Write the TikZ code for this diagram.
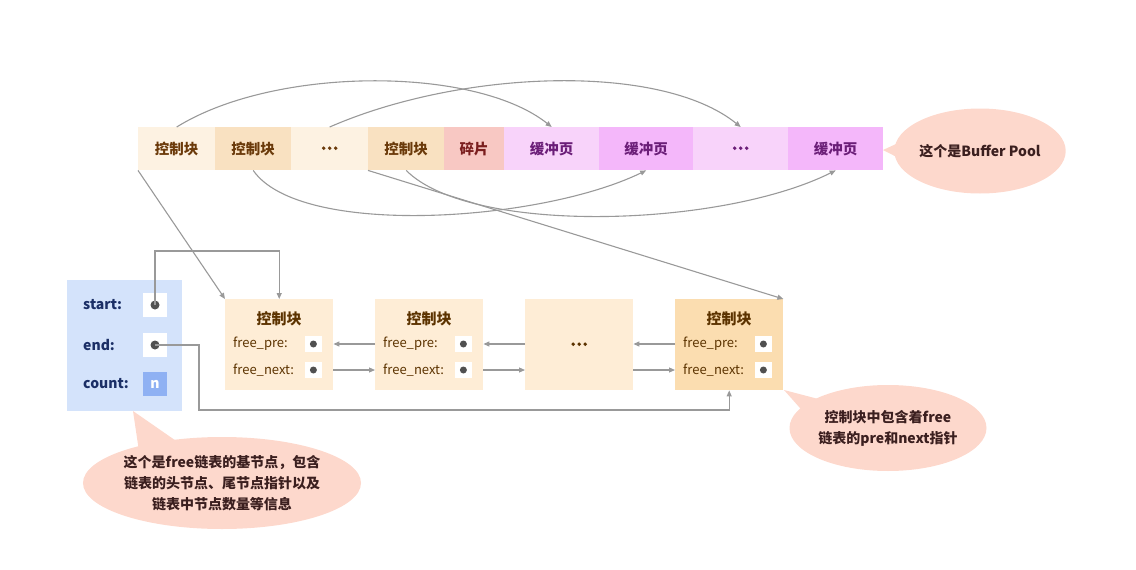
\documentclass[tikz,border=0pt]{standalone}
\usepackage{fontspec}
\setmainfont{Noto Sans CJK SC}
\usetikzlibrary{arrows.meta,shapes.geometric,calc}
\definecolor{cA}{HTML}{FDF2E2}
\definecolor{cB}{HTML}{F9E1C1}
\definecolor{cFrag}{HTML}{F8C8C3}
\definecolor{cP1}{HTML}{F8D3FA}
\definecolor{cP2}{HTML}{F4B7FA}
\definecolor{tBrown}{HTML}{6B3A0A}
\definecolor{tRed}{HTML}{7B1E1E}
\definecolor{tPurple}{HTML}{6B1E78}
\definecolor{arrgray}{HTML}{999999}
\definecolor{callout}{HTML}{FDD8CC}
\definecolor{tCall}{HTML}{3B1F1F}
\definecolor{headblue}{HTML}{D4E3FB}
\definecolor{countblue}{HTML}{8FB1F3}
\definecolor{tBlue}{HTML}{1B2F66}
\definecolor{nodeA}{HTML}{FEEDD6}
\definecolor{nodeB}{HTML}{FBDDB0}
\definecolor{tNode}{HTML}{5C3300}
\definecolor{dotgray}{HTML}{505050}
\newcommand\tridots{\tikz[x=1pt,y=1pt,baseline=-3pt]{\foreach \i in {0,1,2} \fill (\i*6,0) circle (1.9);}}
\begin{document}
\begin{tikzpicture}[x=1pt,y=-1pt,
  cell/.style={minimum height=43pt, inner sep=0pt, anchor=north west,
    font=\bfseries\fontsize{14.5}{16}\selectfont},
  arr/.style={draw=arrgray, line width=1.1pt, -{Triangle[length=6pt,width=5pt]}},
  lnode/.style={minimum width=108pt, minimum height=91pt, inner sep=0pt, anchor=north west},
  ntitle/.style={text=tNode, font=\bfseries\fontsize{15}{17}\selectfont, inner sep=0pt},
  nlab/.style={text=tNode, font=\fontsize{13}{15}\selectfont, inner sep=0pt, anchor=west},
  nsq/.style={fill=white, minimum width=17pt, minimum height=16pt, inner sep=0pt},
  ndot/.style={circle, fill=dotgray, minimum size=7pt, inner sep=0pt},
  hlab/.style={text=tBlue, font=\bfseries\fontsize{14}{16}\selectfont, inner sep=0pt, anchor=west},
  hsq/.style={fill=white, minimum width=24pt, minimum height=24pt, inner sep=0pt},
  hdot/.style={circle, fill=dotgray, minimum size=9pt, inner sep=0pt},
  bubble/.style={ellipse, fill=callout, inner sep=0pt, text=tCall, align=center,
    font=\bfseries\fontsize{14}{21}\selectfont}
]
\useasboundingbox (0,0) rectangle (1136,570);

% ---- top buffer pool row
\node[cell, fill=cA, text=tBrown, minimum width=77pt] (t1) at (138,127) {控制块};
\node[cell, fill=cB, text=tBrown, minimum width=76pt] (t2) at (215,127) {控制块};
\node[cell, fill=cA, text=tBrown, minimum width=77pt] (t3) at (291,127) {\tridots};
\node[cell, fill=cB, text=tBrown, minimum width=76pt] (t4) at (368,127) {控制块};
\node[cell, fill=cFrag, text=tRed, minimum width=60pt] (t5) at (444,127) {碎片};
\node[cell, fill=cP1, text=tPurple, minimum width=95pt] (t6) at (504,127) {缓冲页};
\node[cell, fill=cP2, text=tPurple, minimum width=94pt] (t7) at (599,127) {缓冲页};
\node[cell, fill=cP1, text=tPurple, minimum width=95pt] (t8) at (693,127) {\tridots};
\node[cell, fill=cP2, text=tPurple, minimum width=95pt] (t9) at (788,127) {缓冲页};

% ---- callout Buffer Pool
\coordinate (bp-tip) at (883,150);
\fill[callout] (bp-tip) -- (922,132) -- (922,170) -- cycle;
\node[bubble, minimum width=151pt, minimum height=85pt] (bp) at (980,151) {这个是Buffer Pool};

% ---- curves among top row
\draw[arr] (t1.north) .. controls (275,66) and (475,66) .. (t6.north);
\draw[arr] (t3.north) .. controls (460,70) and (660,62) .. (t8.north);
\draw[arr] (t2.south) .. controls (300,238) and (540,222) .. (t7.south);
\draw[arr] (t4.south) .. controls (470,235) and (720,228) .. (t9.south);

% ---- head node
\node[fill=headblue, minimum width=115pt, minimum height=131pt, inner sep=0pt, anchor=north west] (hd) at (67,280) {};
\node[hlab] (lstart) at (83,305) {start:};
\node[hlab] (lend) at (83,345) {end:};
\node[hlab] (lcount) at (83,384) {count:};
\node[hsq] (ssq) at (155,305) {};
\node[hsq] (esq) at (155,345) {};
\node[hsq, fill=countblue, text=white, font=\bfseries\fontsize{14}{16}\selectfont] (csq) at (155,384) {n};
\node[hdot] (sdot) at (ssq) {};
\node[hdot] (edot) at (esq) {};

% ---- free list nodes
\node[lnode, fill=nodeA] (n1) at (225,299) {};
\node[lnode, fill=nodeA] (n2) at (375,299) {};
\node[lnode, fill=nodeA, text=tNode] (n3) at (525,299) {\tridots};
\node[lnode, fill=nodeB] (n4) at (675,299) {};

\foreach \n in {n1,n2,n4}{
  \node[ntitle] (\n t) at ($(\n.north)+(0,20)$) {控制块};
  \node[nlab] (\n lp) at ($(\n.north west)+(8,45)$) {free\_pre:};
  \node[nlab] (\n ln) at ($(\n.north west)+(8,71)$) {free\_next:};
  \node[nsq] (\n p) at ($(\n.north east)+(-20,45)$) {};
  \node[nsq] (\n q) at ($(\n.north east)+(-20,71)$) {};
  \node[ndot] at (\n p) {};
  \node[ndot] at (\n q) {};
}

% ---- links between list nodes
\draw[arr] (n2.west |- n2p) -- (n1.east |- n2p);
\draw[arr] (n3.west |- n2p) -- (n2.east |- n2p);
\draw[arr] (n4.west |- n4p) -- (n3.east |- n4p);
\draw[arr] (n1.east |- n1q) -- (n2.west |- n1q);
\draw[arr] (n2.east |- n2q) -- (n3.west |- n2q);
\draw[arr] (n3.east |- n2q) -- (n4.west |- n4q);

% ---- start / end pointers
\coordinate (sb) at (155,251);
\draw[arr] (sdot.center) -- (sb) -| (n1.north);
\coordinate (eb) at (199,410);
\draw[arr] (edot.center) -| (eb) -| (n4.south);

% ---- lines from top row to list
\draw[arr] (t1.south west) -- (n1.north west);
\draw[arr] (t4.south west) -- (n4.north east);

% ---- callouts
\coordinate (c2-tip) at (133,411);
\fill[callout] (c2-tip) -- (140,458) -- (182,445) -- cycle;
\node[bubble, minimum width=256pt, minimum height=92pt] (c2) at (222,483)
  {这个是free链表的基节点，包含\\链表的头节点、尾节点指针以及\\链表中节点数量等信息};

\coordinate (c3-tip) at (784,390);
\fill[callout] (c3-tip) -- (826,401) -- (815,425) -- cycle;
\node[bubble, minimum width=184pt, minimum height=86pt] (c3) at (888,428)
  {控制块中包含着free\\链表的pre和next指针};
\end{tikzpicture}
\end{document}
